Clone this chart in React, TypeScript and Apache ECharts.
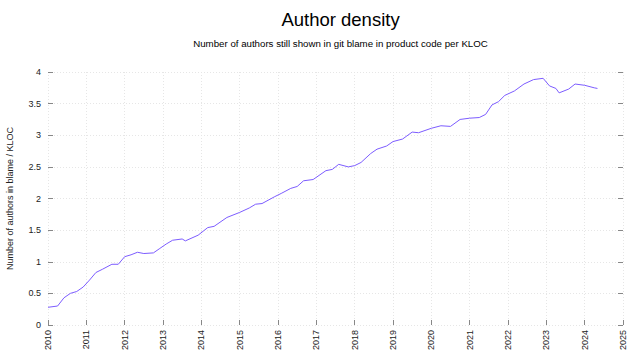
import React, { useEffect, useRef } from "react";
import * as echarts from "echarts";

const title = "Author density";
const subtitle = "Number of authors still shown in git blame in product code per KLOC";
const yAxisName = "Number of authors in blame / KLOC";

const months = [
  "2010-01", "2010-04", "2010-06", "2010-08", "2010-10", "2010-12",
  "2011-02", "2011-04", "2011-06", "2011-09", "2011-11",
  "2012-01", "2012-03", "2012-05", "2012-07", "2012-10", "2012-12",
  "2013-02", "2013-04", "2013-07", "2013-08", "2013-12",
  "2014-03", "2014-05", "2014-09",
  "2015-01", "2015-04", "2015-06", "2015-08", "2015-12",
  "2016-02", "2016-05", "2016-07", "2016-09", "2016-12",
  "2017-04", "2017-06", "2017-08", "2017-11",
  "2018-01", "2018-03", "2018-06", "2018-08", "2018-11",
  "2019-01", "2019-04", "2019-07", "2019-09",
  "2020-01", "2020-04", "2020-07", "2020-10",
  "2021-01", "2021-04", "2021-06", "2021-08", "2021-10", "2021-12",
  "2022-03", "2022-06", "2022-09", "2022-12",
  "2023-02", "2023-04", "2023-05", "2023-08", "2023-10",
  "2024-01", "2024-04", "2024-05",
];

const density = [
  0.28, 0.30, 0.43, 0.50, 0.53, 0.60,
  0.71, 0.83, 0.88, 0.96, 0.96,
  1.08, 1.11, 1.15, 1.13, 1.14, 1.21,
  1.28, 1.34, 1.36, 1.33, 1.42,
  1.54, 1.56, 1.70,
  1.78, 1.85, 1.91, 1.92, 2.03,
  2.08, 2.16, 2.19, 2.28, 2.30,
  2.44, 2.46, 2.54, 2.50,
  2.52, 2.57, 2.71, 2.78, 2.83,
  2.90, 2.94, 3.05, 3.04,
  3.11, 3.15, 3.14, 3.25,
  3.27, 3.28, 3.33, 3.48, 3.53, 3.63,
  3.70, 3.81, 3.88, 3.90,
  3.78, 3.74, 3.67, 3.73, 3.81,
  3.79, 3.75, 3.74,
];

const xMin = 2010;
const xMax = 2025;
const yMin = 0;
const yMax = 4;

function toYear(m: string): number {
  const [y, mo] = m.split("-").map(Number);
  return y + (mo - 1) / 12;
}

export default function App() {
  const ref = useRef<HTMLDivElement>(null);
  useEffect(() => {
    if (!ref.current) return;
    const chart = echarts.init(ref.current, null, { renderer: "svg" });
    const font = "'Liberation Sans', Arial, sans-serif";
    const gridLine = { show: true, lineStyle: { color: "#e6e6e6", type: [1, 2] as any, width: 1 } };
    chart.setOption({
      animation: false,
      backgroundColor: "#ffffff",
      title: [
        {
          text: title,
          left: 335.5,
          top: 5,
          textAlign: "center",
          textStyle: { fontFamily: font, fontSize: 18.5, fontWeight: "normal", color: "#000" },
        },
        {
          text: subtitle,
          left: 335.5,
          top: 33,
          textAlign: "center",
          textStyle: { fontFamily: font, fontSize: 9.7, fontWeight: "normal", color: "#000" },
        },
      ],
      grid: { left: 48, right: 17, top: 72, bottom: 35, containLabel: false, outerBoundsMode: "none" },
      xAxis: {
        type: "value",
        min: xMin,
        max: xMax,
        interval: 1,
        axisLine: { show: false },
        axisTick: { show: true, inside: true, length: 5, lineStyle: { color: "#888" } },
        axisLabel: {
          rotate: 90,
          margin: 5,
          fontFamily: font,
          fontSize: 9,
          color: "#222",
          formatter: (v: number) => String(v),
        },
        splitLine: gridLine,
      },
      yAxis: [
        {
          type: "value",
          min: yMin,
          max: yMax,
          interval: 0.5,
          name: yAxisName,
          nameLocation: "middle",
          nameGap: 34,
          nameTextStyle: { fontFamily: font, fontSize: 9, color: "#222" },
          axisLine: { show: false },
          axisTick: { show: true, inside: true, length: 5, lineStyle: { color: "#888" } },
          axisLabel: { fontFamily: font, fontSize: 9, color: "#222", margin: 7 },
          splitLine: gridLine,
        },
        {
          type: "value",
          min: yMin,
          max: yMax,
          interval: 0.5,
          position: "right",
          axisLine: { show: false },
          axisTick: { show: true, inside: true, length: 5, lineStyle: { color: "#888" } },
          axisLabel: { show: false },
          splitLine: { show: false },
        },
      ],
      series: [
        {
          type: "line",
          data: months.map((m, i) => [toYear(m), density[i]]),
          showSymbol: false,
          lineStyle: { color: "#7c5cff", width: 1 },
          itemStyle: { color: "#7c5cff" },
        },
      ],
    });
    return () => chart.dispose();
  }, []);
  return <div ref={ref} style={{ width: 640, height: 360, position: "fixed", left: 0, top: 0 }} />;
}
